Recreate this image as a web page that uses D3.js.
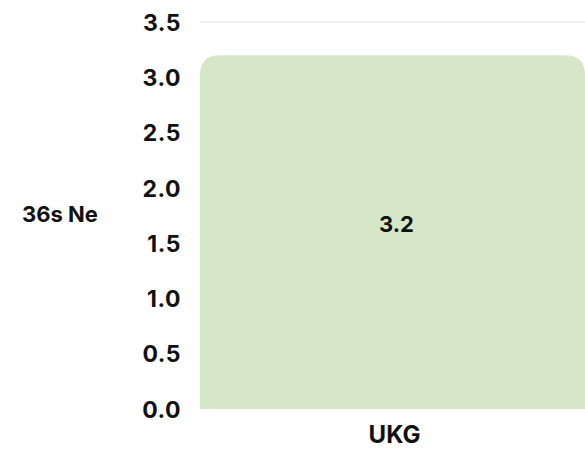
<!DOCTYPE html>
<html><head><meta charset="utf-8">
<script src="https://cdn.jsdelivr.net/npm/d3@7/dist/d3.min.js"></script>
<style>body{margin:0;background:#fff}svg{display:block}</style>
</head><body>
<svg id="c" width="585" height="449"></svg>
<script>
const categories = ["UKG"];
const values = [3.2];
const yTicks = [0, 0.5, 1.0, 1.5, 2.0, 2.5, 3.0, 3.5];
const yLabel = "36s Ne";

const svg = d3.select("#c");
const font = "Inter, 'DejaVu Sans', sans-serif";
const plotLeft = 200, plotRight = 585, plotTop = 22, plotBottom = 409;

const x = d3.scaleBand().domain(categories).range([plotLeft, plotRight]).padding(0);
const y = d3.scaleLinear().domain([0, 3.5]).range([plotBottom, plotTop]);

// gridlines
svg.append("g").selectAll("line").data(yTicks.filter(d => d > 0)).join("line")
  .attr("x1", plotLeft).attr("x2", plotRight)
  .attr("y1", d => y(d)).attr("y2", d => y(d))
  .attr("stroke", "#ebebeb").attr("stroke-width", 1.5);

// y axis
const yAxis = d3.axisLeft(y).tickValues(yTicks).tickFormat(d3.format(".1f")).tickSize(0).tickPadding(0);
const ga = svg.append("g").attr("transform", "translate(181,0)").call(yAxis);
ga.select(".domain").remove();
ga.selectAll("text").attr("font-family", font).attr("font-weight", "bold")
  .attr("font-size", 23).attr("fill", "#111").attr("dy", "0.36em")
  .attr("letter-spacing", "0.5");

// bars with rounded top corners
const r = 20;
function barPath(x0, x1, yt, yb) {
  return `M${x0},${yb}L${x0},${yt + r}Q${x0},${yt} ${x0 + r},${yt}L${x1 - r},${yt}Q${x1},${yt} ${x1},${yt + r}L${x1},${yb}Z`;
}
svg.append("g").selectAll("path").data(values).join("path")
  .attr("d", (d, i) => barPath(x(categories[i]), x(categories[i]) + x.bandwidth(), y(d), y(0)))
  .attr("fill", "#d5e7c6");

// value labels
svg.append("g").selectAll("text").data(values).join("text")
  .attr("x", (d, i) => x(categories[i]) + x.bandwidth() / 2 + 4)
  .attr("y", d => (y(d) + y(0)) / 2 - 8)
  .attr("dy", "0.36em")
  .attr("text-anchor", "middle")
  .attr("font-family", font).attr("font-weight", "bold").attr("font-size", 22)
  .attr("fill", "#111")
  .text(d => d3.format(".1f")(d));

// x axis
const xAxis = d3.axisBottom(x).tickSize(0).tickPadding(0);
const gx = svg.append("g").attr("transform", `translate(0,${plotBottom})`).call(xAxis);
gx.select(".domain").remove();
gx.selectAll("text").attr("font-family", font).attr("font-weight", "bold")
  .attr("font-size", 24).attr("fill", "#111").attr("dy", "0").attr("y", 34).attr("dx", 2);

// y label
svg.append("text").attr("x", 22).attr("y", 214).attr("dy", "0.36em")
  .attr("font-family", font).attr("font-weight", "bold").attr("font-size", 22)
  .attr("fill", "#111").text(yLabel);
</script>
</body></html>
